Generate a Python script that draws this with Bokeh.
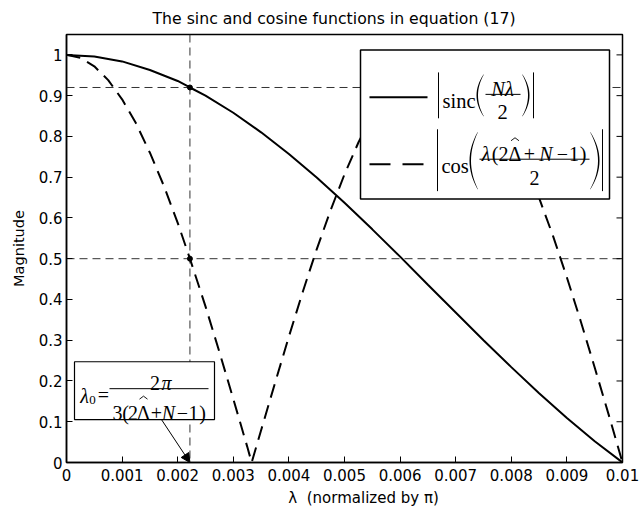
from bokeh.plotting import figure
from bokeh.models import (Span, BoxAnnotation, PolyAnnotation, Label, Arrow,
                          NormalHead, FixedTicker, Range1d)
from bokeh.embed import file_html
from bokeh.resources import INLINE

# ---------------- data ----------------
# |sinc(N*lambda/2)|
sinc_lambda = [0.0, 0.0005, 0.001, 0.0015, 0.002, 0.00222, 0.0025, 0.003, 0.0035,
               0.004, 0.0045, 0.005, 0.0055, 0.006, 0.0065, 0.007, 0.0075, 0.008,
               0.0085, 0.009, 0.0095, 0.01]
sinc_mag = [1.0, 0.996, 0.984, 0.963, 0.936, 0.92, 0.900, 0.858, 0.810,
            0.757, 0.699, 0.637, 0.572, 0.505, 0.436, 0.368, 0.300, 0.234,
            0.170, 0.109, 0.052, 0.0]

# |cos(lambda*(2*Delta + N - 1)/2)|
cos_lambda = [0.0, 0.00025, 0.0005, 0.00075, 0.001, 0.00125, 0.0015, 0.00175, 0.002,
              0.00222, 0.0025, 0.00275, 0.003, 0.00325, 0.00333, 0.0035, 0.00375,
              0.004, 0.00425, 0.0045, 0.00475, 0.005, 0.00525, 0.0055, 0.00575,
              0.006, 0.00625, 0.0065, 0.00667, 0.00675, 0.007, 0.00725, 0.0075,
              0.00775, 0.008, 0.00825, 0.0085, 0.00875, 0.009, 0.00925, 0.0095,
              0.00975, 0.01]
cos_mag = [1.0, 0.993, 0.972, 0.938, 0.891, 0.832, 0.760, 0.679, 0.588,
           0.5, 0.383, 0.271, 0.156, 0.039, 0.0, 0.079, 0.195,
           0.309, 0.419, 0.523, 0.619, 0.707, 0.785, 0.853, 0.908,
           0.951, 0.981, 0.997, 1.0, 0.999, 0.988, 0.963, 0.924,
           0.873, 0.809, 0.734, 0.649, 0.556, 0.454, 0.346, 0.233,
           0.118, 0.0]

# marked operating point
lambda0 = 0.00222
sinc_at_lambda0 = 0.92
cos_at_lambda0 = 0.5

x_ticks = [0.0, 0.001, 0.002, 0.003, 0.004, 0.005, 0.006, 0.007, 0.008, 0.009, 0.01]
x_tick_labels = ["0", "0.001", "0.002", "0.003", "0.004", "0.005", "0.006",
                 "0.007", "0.008", "0.009", "0.01"]
y_ticks = [0.0, 0.1, 0.2, 0.3, 0.4, 0.5, 0.6, 0.7, 0.8, 0.9, 1.0]
y_tick_labels = ["0", "0.1", "0.2", "0.3", "0.4", "0.5", "0.6", "0.7", "0.8", "0.9", "1"]

# ---------------- layout ----------------
W, H = 643, 511
B_LEFT, B_RIGHT, B_TOP, B_BOTTOM = 66, 21, 33, 49
X0, X1 = 0.0, 0.01
Y0, Y1 = 0.0, 1.05
FL, FR, FT, FB = B_LEFT, W - B_RIGHT, B_TOP, H - B_BOTTOM


def px_x(px):
    """Canvas pixel column -> data x."""
    return X0 + (px - FL) / (FR - FL) * (X1 - X0)


def px_y(py):
    """Canvas pixel row -> data y."""
    return Y0 + (FB - py) / (FB - FT) * (Y1 - Y0)


SANS = "DejaVu Sans"
SERIF = "Liberation Serif"
MATH = 20

p = figure(width=W, height=H, output_backend="svg", toolbar_location=None,
           x_range=Range1d(X0, X1), y_range=Range1d(Y0, Y1),
           min_border_left=B_LEFT, min_border_right=B_RIGHT,
           min_border_top=B_TOP, min_border_bottom=B_BOTTOM,
           title="The sinc and cosine functions in equation (17)")

p.title.align = "left"
p.title.offset = 86
p.title.standoff = 13
p.title.text_font = SANS
p.title.text_font_size = "15.7px"
p.title.text_font_style = "normal"
p.title.text_color = "black"

p.xgrid.visible = False
p.ygrid.visible = False
p.outline_line_color = "black"
p.outline_line_width = 1.5
p.outline_line_alpha = 1.0
p.background_fill_color = "white"
p.border_fill_color = "white"


def style_axis(ax, ticks, labels):
    ax.ticker = FixedTicker(ticks=ticks)
    ax.major_label_overrides = dict(zip(ticks, labels))
    ax.major_tick_in = 6
    ax.major_tick_out = 0
    ax.minor_tick_in = 0
    ax.minor_tick_out = 0
    ax.axis_line_width = 1.5
    ax.axis_line_color = "black"
    ax.major_tick_line_color = "black"
    ax.major_tick_line_width = 1
    ax.major_label_text_font = SANS
    ax.major_label_text_font_size = "15px"
    ax.major_label_text_color = "black"
    ax.axis_label_text_font = SANS
    ax.axis_label_text_font_size = "14.5px"
    ax.axis_label_text_font_style = "normal"
    ax.axis_label_text_color = "black"


style_axis(p.xaxis[0], x_ticks, x_tick_labels)
style_axis(p.yaxis[0], y_ticks, y_tick_labels)
p.xaxis[0].axis_label = "\u00a0" * 8 + "λ\u00a0 (normalized by π)"
p.xaxis[0].axis_label_text_font_size = "15px"
p.xaxis[0].major_label_standoff = 6
p.xaxis[0].axis_label_standoff = 5
p.yaxis[0].axis_label = "Magnitude"
p.yaxis[0].major_label_standoff = 4
p.yaxis[0].axis_label_standoff = 9

# inward ticks along the right edge of the box
for yt in y_ticks:
    p.add_layout(Arrow(end=None, x_start=X1, y_start=yt, x_end=px_x(FR - 6), y_end=yt,
                       line_color="black", line_width=1))

# ---------------- reference lines through the operating point ----------------
ref_style = dict(line_color="#333333", line_width=1, line_dash="8 5", level="underlay")
p.add_layout(Span(location=lambda0, dimension="height", **ref_style))
p.add_layout(Span(location=sinc_at_lambda0, dimension="width", **ref_style))
p.add_layout(Span(location=cos_at_lambda0, dimension="width", **ref_style))

# ---------------- curves ----------------
p.line(sinc_lambda, sinc_mag, line_color="black", line_width=2)
p.line(cos_lambda, cos_mag, line_color="black", line_width=2, line_dash="14 8")
p.scatter([lambda0, lambda0], [sinc_at_lambda0, cos_at_lambda0],
          size=5, color="black")


# ---------------- helpers for the typeset annotations ----------------
def text(s, px, py, size=MATH, align="center", style="normal"):
    p.add_layout(Label(x=px_x(px), y=px_y(py), text=s, text_font=SERIF,
                       text_font_size=f"{size}px", text_font_style=style,
                       text_align=align, text_baseline="alphabetic",
                       text_color="black"))


def seg(px0, py0, px1, py1, width=1.0, dash="solid"):
    p.add_layout(Arrow(end=None, x_start=px_x(px0), y_start=px_y(py0),
                       x_end=px_x(px1), y_end=px_y(py1),
                       line_color="black", line_width=width, line_dash=dash))


def hat(cx, baseline):
    """Circumflex accent over a capital letter."""
    seg(cx - 4, baseline - 13.5, cx, baseline - 16.5, width=0.9)
    seg(cx, baseline - 16.5, cx + 4, baseline - 13.5, width=0.9)


def paren(x_tip, x_belly, top, bottom, thick=1.5, n=16):
    """Tall thin parenthesis drawn as a filled crescent."""
    side = 1 if x_tip > x_belly else -1
    mid, half = (top + bottom) / 2, (bottom - top) / 2
    outer, inner = [], []
    for i in range(n + 1):
        t = -1 + 2 * i / n
        y = mid + t * half
        x = x_belly + (x_tip - x_belly) * t * t
        outer.append((x, y))
        inner.append((x + side * thick * (1 - 0.75 * t * t), y))
    pts = outer + inner[::-1]
    p.add_layout(PolyAnnotation(xs=[px_x(a) for a, _ in pts], ys=[px_y(b) for _, b in pts],
                                fill_color="black", fill_alpha=1.0, line_alpha=0.0))


def run(tokens, baseline, size=MATH):
    """Typeset a row of (glyph, centre_x, italic) tokens on one baseline."""
    for s, cx, italic in tokens:
        text(s, cx, baseline, size=size, style="italic" if italic else "normal")


# ---------------- legend ----------------
p.add_layout(BoxAnnotation(left=px_x(360), right=px_x(609),
                           top=px_y(48.5), bottom=px_y(198),
                           fill_color="white", fill_alpha=1.0,
                           line_color="black", line_width=1.5, line_alpha=1.0))

# row 1: |sinc(N lambda / 2)|
seg(369, 96, 427, 96, width=2)
seg(438, 71, 438, 117)
text("sinc", 442, 100, size=20.5, align="left")
paren(483, 476, 73, 115)
text("Nλ", 502, 88, size=20.5, style="italic")
seg(485, 93, 520, 93)
text("2", 502, 111, size=20.5)
paren(522, 529, 73, 115)
seg(533, 71, 533, 117)

# row 2: |cos(lambda (2 Delta_hat + N - 1) / 2)|
seg(369, 163, 427, 163, width=2, dash="21 12")
seg(437, 128, 437, 190)
text("cos", 441, 165, size=20.5, align="left")
paren(477, 469, 131, 188)
run([("λ", 485.5, True), ("(", 494.5, False), ("2", 503, False), ("Δ", 514.5, False),
     ("+", 529, False), ("N", 545.5, True), ("−", 562, False), ("1", 573.5, False),
     (")", 582.5, False)], 153)
hat(514.5, 153)
seg(479, 158, 589, 158)
text("2", 534, 177)
paren(590, 599, 131, 188)
seg(602, 128, 602, 190)

# ---------------- lambda_0 definition box with arrow ----------------
p.add_layout(BoxAnnotation(left=px_x(74), right=px_x(214),
                           top=px_y(361), bottom=px_y(419),
                           fill_color="white", fill_alpha=1.0,
                           line_color="black", line_width=1.2, line_alpha=1.0))
text("λ", 84, 395, style="italic")
text("0", 92, 399, size=13)
text("=", 103, 394)
seg(109, 388, 208, 388)
run([("2", 154.5, False), ("π", 166, True)], 382)
run([("3", 117, False), ("(", 125, False), ("2", 132.5, False), ("Δ", 143, False),
     ("+", 156, False), ("N", 168, True), ("−", 182, False), ("1", 193, False),
     (")", 202, False)], 412)
hat(143, 412)

p.add_layout(Arrow(x_start=px_x(161), y_start=px_y(419),
                   x_end=lambda0, y_end=Y0,
                   line_color="black", line_width=1,
                   end=NormalHead(size=9, fill_color="black", line_color="black")))

open("out.html", "w").write(file_html(p, INLINE))
